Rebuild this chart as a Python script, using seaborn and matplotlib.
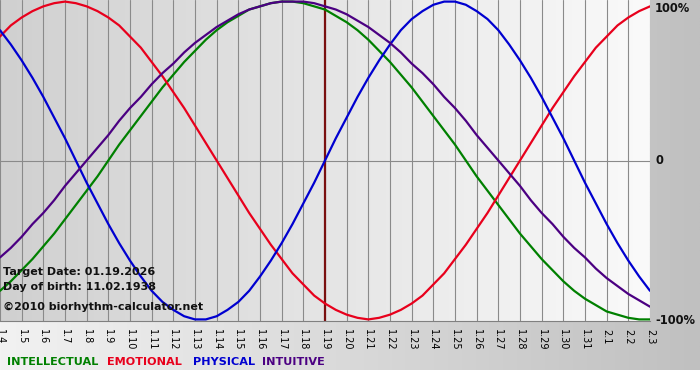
import numpy as np
import pandas as pd
import matplotlib
matplotlib.use("Agg")
import matplotlib.pyplot as plt
import seaborn as sns
from matplotlib.colors import LinearSegmentedColormap

# ---- data (values at every half day, 1.4 .. 2.3) ----
dates = ["1.4", "1.5", "1.6", "1.7", "1.8", "1.9", "1.10", "1.11", "1.12", "1.13",
         "1.14", "1.15", "1.16", "1.17", "1.18", "1.19", "1.20", "1.21", "1.22", "1.23",
         "1.24", "1.25", "1.26", "1.27", "1.28", "1.29", "1.30", "1.31", "2.1", "2.2", "2.3"]
sample_days = [i / 2 for i in range(61)]
intellectual = [-82, -76, -69, -62, -54, -46, -37, -28, -19, -10, 0, 10, 19, 28, 37, 46,
                54, 62, 69, 76, 82, 87, 91, 95, 97, 99, 100, 100, 99, 97, 95, 91,
                87, 82, 76, 69, 62, 54, 46, 37, 28, 19, 10, 0, -10, -19, -28, -37,
                -46, -54, -62, -69, -76, -82, -87, -91, -95, -97, -99, -100, -100]
emotional = [78, 85, 90, 94, 97, 99, 100, 99, 97, 94, 90, 85, 78, 71, 62, 53,
             43, 33, 22, 11, 0, -11, -22, -33, -43, -53, -62, -71, -78, -85, -90, -94,
             -97, -99, -100, -99, -97, -94, -90, -85, -78, -71, -62, -53, -43, -33, -22, -11,
             0, 11, 22, 33, 43, 53, 62, 71, 78, 85, 90, 94, 97]
physical = [82, 73, 63, 52, 40, 27, 14, 0, -14, -27, -40, -52, -63, -73, -82, -89,
            -94, -98, -100, -100, -98, -94, -89, -82, -73, -63, -52, -40, -27, -14, 0, 14,
            27, 40, 52, 63, 73, 82, 89, 94, 98, 100, 100, 98, 94, 89, 82, 73,
            63, 52, 40, 27, 14, 0, -14, -27, -40, -52, -63, -73, -82]
intuitive = [-61, -55, -48, -40, -33, -25, -16, -8, 0, 8, 16, 25, 33, 40, 48, 55,
             61, 68, 74, 79, 84, 88, 92, 95, 97, 99, 100, 100, 100, 99, 97, 95,
             92, 88, 84, 79, 74, 68, 61, 55, 48, 40, 33, 25, 16, 8, 0, -8,
             -16, -25, -33, -40, -48, -55, -61, -68, -74, -79, -84, -88, -92]
series_names = ["INTELLECTUAL", "EMOTIONAL", "PHYSICAL", "INTUITIVE"]
series_colors = ["#008000", "#e8001c", "#0000d0", "#4b0082"]
target_date = "1.19"
y_ticks = [100, 0, -100]
y_labels = ["100%", "0", "-100%"]
info_lines = ["Target Date: 01.19.2026", "Day of birth: 11.02.1938",
              "\u00a92010 biorhythm-calculator.net"]

# ---- figure ----
W, H = 700, 380
fig = plt.figure(figsize=(W / 100, H / 100), dpi=100)
fig.patch.set_facecolor("white")
sns.set_style("white")

# background gradient
bg = fig.add_axes([0, 0, 1, 1], zorder=-10)
grad = np.tile(np.linspace(0, 1, 256), (2, 1))
bgcmap = LinearSegmentedColormap.from_list("bg", ["#f2f2f2", "#c0c0c0"])
bg.imshow(grad, cmap=bgcmap, aspect="auto", extent=[0, W, H - 370, H], origin="lower")
bg.set_xlim(0, W)
bg.set_ylim(0, H)
bg.axis("off")

# main axes: pixels x 0..650, y 0..321 (from top)
ax = fig.add_axes([0 / W, (H - 321) / H, 650 / W, 321 / H])

n = len(dates)
xs = np.arange(n)
m = len(sample_days)
df = pd.DataFrame({
    "day": np.tile(sample_days, 4),
    "value": intellectual + emotional + physical + intuitive,
    "series": np.repeat(series_names, m),
})

# plot area gradient
pcmap = LinearSegmentedColormap.from_list("pa", ["#d0d0d0", "#fafafa"])
ax.imshow(grad, cmap=pcmap, aspect="auto", extent=[0, n - 1, -101, 101], zorder=0)

for i in xs:
    ax.axvline(i, color="#8a8a8a", lw=0.8, zorder=1)
ax.axhline(0, color="#8a8a8a", lw=0.8, zorder=1)

ti = dates.index(target_date)
ax.axvline(ti, color="#7a1010", lw=1.6, zorder=2)

sns.lineplot(data=df, x="day", y="value", hue="series", palette=series_colors,
             hue_order=series_names, lw=1.6, ax=ax, legend=False, zorder=3)

ax.set_xlim(0, n - 1)
ax.set_ylim(-101, 101)
ax.set_xlabel("")
ax.set_ylabel("")
ax.set_xticks(xs)
ax.set_xticklabels(dates, rotation=270, fontsize=7.0, family="DejaVu Sans",
                   color="#000000")
ax.tick_params(axis="x", length=4, color="#808080", pad=1.5)
ax.set_yticks([])
for s in ["top", "left", "right"]:
    ax.spines[s].set_visible(False)
ax.spines["bottom"].set_color("#808080")
ax.spines["bottom"].set_linewidth(0.8)

# right-hand percentage labels
for v, lab in zip(y_ticks, y_labels):
    ypix = 160 - v * 1.6
    ypix = min(max(ypix, 8), 321)
    fig.text(655 / W, 1 - ypix / H, lab, fontsize=8.3, fontweight="bold",
             color="#111111", va="center", ha="left")

# info texts
for txt, yp in zip(info_lines, [272, 287, 307]):
    fig.text(3 / W, 1 - yp / H, txt, fontsize=8.0, fontweight="bold", color="#111111",
             va="center", ha="left", zorder=10)

# legend texts
for name, col, xp in zip(series_names, series_colors, [7, 107, 193, 262]):
    fig.text(xp / W, 1 - 362 / H, name, fontsize=8.1, fontweight="bold", color=col,
             va="center", ha="left")

fig.savefig("out.png", dpi=100)
